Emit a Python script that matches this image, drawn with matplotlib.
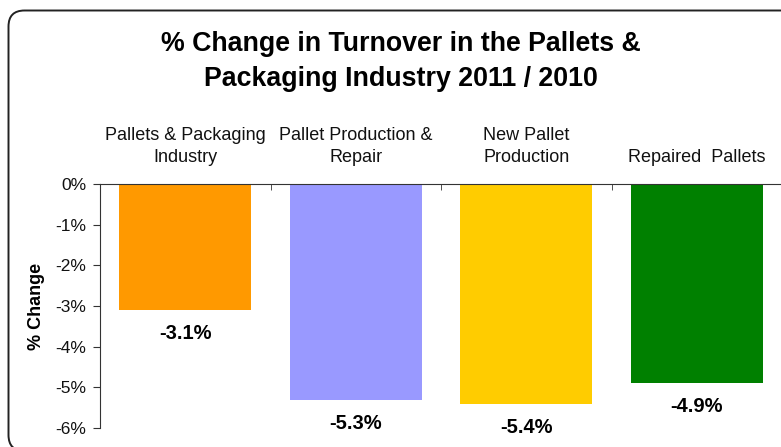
import numpy as np
import matplotlib.pyplot as plt
from matplotlib.patches import FancyBboxPatch

plt.rcParams['font.family'] = ['Liberation Sans', 'DejaVu Sans']

categories = ['Pallets & Packaging\nIndustry', 'Pallet Production &\nRepair',
              'New Pallet\nProduction', 'Repaired  Pallets']
pct_change = [-3.1, -5.3, -5.4, -4.9]
bar_colors = ['#FF9900', '#9999FF', '#FFCC00', '#008000']
y_ticks = [0, -1, -2, -3, -4, -5, -6]

W, H = 781, 447
fig = plt.figure(figsize=(W / 100, H / 100), dpi=100)

# background frame with rounded corners, drawn in pixel units;
# it runs past the right and bottom edges of the canvas
bg = fig.add_axes([0, 0, 1, 1])
bg.set_xlim(0, W)
bg.set_ylim(0, H)
bg.axis('off')
bg.add_patch(FancyBboxPatch((8.5, -4), 800, H - 10.5 + 4,
                            boxstyle='round,pad=0,rounding_size=16',
                            fc='none', ec='#222222', lw=1.4))

ax = fig.add_axes([100 / W, 1 - 428 / H, 682 / W, (428 - 184) / H])
ax.patch.set_alpha(0)

x = np.arange(len(categories))
ax.bar(x, pct_change, width=0.775, color=bar_colors, zorder=2)

for xi, v in zip(x, pct_change):
    ax.annotate(f'{v:.1f}%', (xi, v), xytext=(0, -17), textcoords='offset points',
                ha='center', va='center', fontsize=14.5, fontweight='bold')

ax.set_xlim(-0.5, len(categories) - 0.5)
ax.set_ylim(-6, 0)

# category labels sit above the zero line
ax.xaxis.tick_top()
ax.set_xticks(x)
ax.set_xticklabels(categories, fontsize=13, color='#111111', linespacing=1.4)
ax.set_xticks(x[:-1] + 0.5, minor=True)
ax.tick_params(axis='x', which='major', length=0, pad=13)
ax.tick_params(axis='x', which='minor', direction='in', length=4, color='#333333')

ax.set_yticks(y_ticks)
ax.set_yticklabels([f'{t}%' for t in y_ticks], fontsize=12.5, color='#111111')
ax.tick_params(axis='y', direction='out', length=5, pad=5, color='#333333')
ax.set_ylabel('% Change', fontsize=13, fontweight='bold', labelpad=7)

for side in ['right', 'bottom']:
    ax.spines[side].set_visible(False)
ax.spines['top'].set_color('#333333')
ax.spines['left'].set_color('#333333')
ax.spines['top'].set_zorder(3)

fig.text(0.513, 1 - 31 / H,
         '% Change in Turnover in the Pallets &\nPackaging Industry 2011 / 2010',
         ha='center', va='top', fontsize=19.3, fontweight='bold', linespacing=1.45)

fig.savefig('out.png', dpi=100)
